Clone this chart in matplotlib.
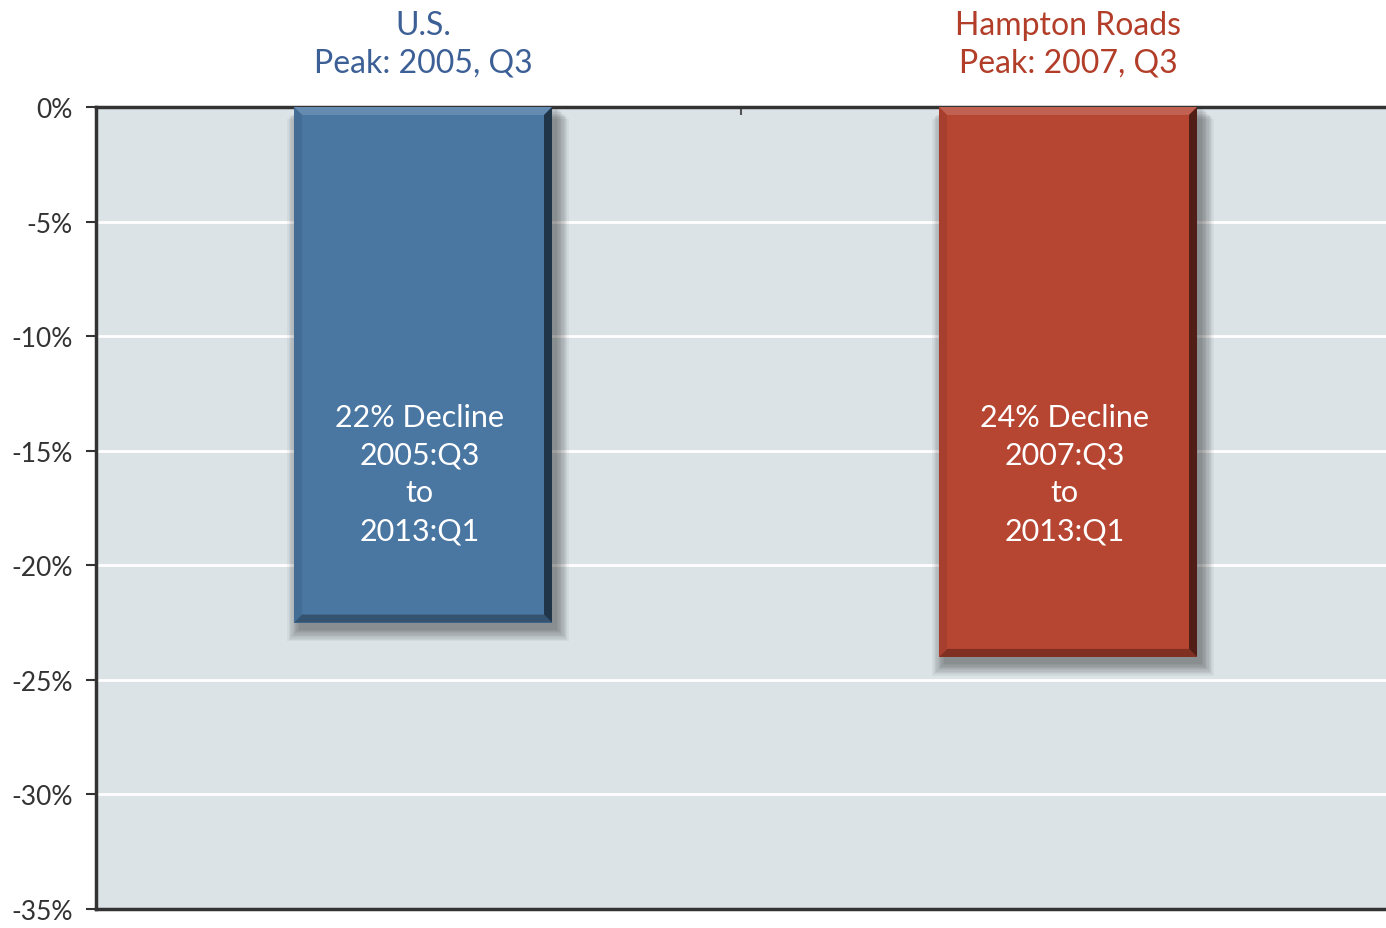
import matplotlib
matplotlib.use("Agg")
import matplotlib.pyplot as plt
from matplotlib.patches import Rectangle, Polygon
import numpy as np

# data
regions = ["U.S.", "Hampton Roads"]
peaks = ["Peak: 2005, Q3", "Peak: 2007, Q3"]
declines = [-22.5, -24.0]
bar_labels = ["22% Decline\n2005:Q3\nto\n2013:Q1", "24% Decline\n2007:Q3\nto\n2013:Q1"]
bar_colors = ["#4a76a2", "#b64532"]
title_colors = ["#3c6096", "#b23d29"]
yticks = [0, -5, -10, -15, -20, -25, -30, -35]

plt.rcParams['font.family'] = ['Lato', 'DejaVu Sans']

W, H = 1386, 929
fig = plt.figure(figsize=(W / 100, H / 100), dpi=100)
ax_l, ax_r, ax_b, ax_t = 96 / W, 1.0, (H - 910) / H, (H - 108) / H
ax = fig.add_axes([ax_l, ax_b, ax_r - ax_l, ax_t - ax_b])
ax.set_facecolor("#dce3e7")

ax.set_xlim(0, 2)
ax.set_ylim(-35, 0)

# pixel -> data conversions
px_x = 2 / (W * (ax_r - ax_l))
px_y = 35 / (H * (ax_t - ax_b))

for y in yticks[1:-1]:
    ax.axhline(y, color="white", lw=2, zorder=1)

x = np.arange(len(regions)) + 0.5 + 0.007
width = 0.4

def shade(c, f):
    c = np.array(matplotlib.colors.to_rgb(c))
    if f > 0:
        return tuple(c + (1 - c) * f)
    return tuple(c * (1 + f))

for xi, v, col, lab in zip(x, declines, bar_colors, bar_labels):
    x0, x1 = xi - width / 2, xi + width / 2
    # soft shadow
    for k in range(10):
        grow = k * 1.3
        ax.add_patch(Rectangle((x0 + (5 - grow) * px_x, v - (7 + grow) * px_y),
                               width + (2 * grow) * px_x, -v + 7 * px_y,
                               facecolor="black", alpha=0.045, lw=0, zorder=2))
    ax.add_patch(Rectangle((x0, v), width, -v, facecolor=col, lw=0, zorder=3))
    b = 8
    bx, by = b * px_x, b * px_y
    # bevels
    top = [(x0, 0), (x1, 0), (x1 - bx, -by), (x0 + bx, -by)]
    bot = [(x0, v), (x1, v), (x1 - bx, v + by), (x0 + bx, v + by)]
    left = [(x0, 0), (x0 + bx, -by), (x0 + bx, v + by), (x0, v)]
    right = [(x1, 0), (x1 - bx, -by), (x1 - bx, v + by), (x1, v)]
    ax.add_patch(Polygon(top, facecolor=shade(col, 0.15), lw=0, zorder=4))
    ax.add_patch(Polygon(bot, facecolor=shade(col, -0.3), lw=0, zorder=4))
    ax.add_patch(Polygon(left, facecolor=shade(col, -0.08), lw=0, zorder=4))
    ax.add_patch(Polygon(right, facecolor=shade(col, -0.55), lw=0, zorder=4))
    ax.text(xi - 0.005, -16.0, lab, ha="center", va="center", color="white",
            fontsize=22, linespacing=1.42, zorder=5)

for xi, r, p, c in zip(x, regions, peaks, title_colors):
    ax.text(xi, 1.3, r + "\n" + p, ha="center", va="bottom", color=c,
            fontsize=23, linespacing=1.28, clip_on=False)

ax.set_yticks(yticks)
ax.set_yticklabels([f"{t}%" for t in yticks], fontsize=19, color="#333333")
ax.set_xticks([1])
ax.set_xticklabels([""])
ax.xaxis.tick_top()
ax.tick_params(axis="x", direction="in", length=6, width=1.5, color="#555555")
ax.tick_params(axis="y", direction="out", length=7, width=1.5, color="#333333", pad=10)

for s in ["top", "bottom", "left"]:
    ax.spines[s].set_color("#333333")
    ax.spines[s].set_linewidth(2.5)
ax.spines["right"].set_visible(False)

fig.savefig("out.png", dpi=100, facecolor="white")
